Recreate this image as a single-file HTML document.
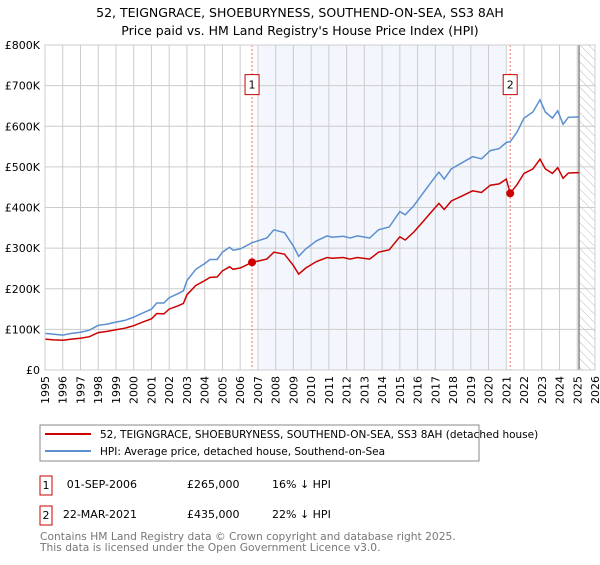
<!DOCTYPE html>
<html><head><meta charset="utf-8"><style>
body{margin:0;background:#fff;font-family:"Liberation Sans","DejaVu Sans",sans-serif;}
svg text{font-family:"DejaVu Sans","Liberation Sans",sans-serif;}
</style></head><body>
<svg id="c" width="600" height="560" xmlns="http://www.w3.org/2000/svg">
<defs><pattern id="hatch" width="6" height="6" patternUnits="userSpaceOnUse" patternTransform="rotate(-45)"><line x1="0" y1="0" x2="0" y2="6" stroke="#bbb" stroke-width="1"/></pattern></defs>
<text x="300" y="17" text-anchor="middle" font-size="12.5">52, TEIGNGRACE, SHOEBURYNESS, SOUTHEND-ON-SEA, SS3 8AH</text>
<text x="300" y="35" text-anchor="middle" font-size="12.5">Price paid vs. HM Land Registry's House Price Index (HPI)</text>
<g id="plot"></g>
<rect x="40" y="425" width="439" height="36" fill="#fff" stroke="#888"/>
<line x1="45" y1="434" x2="91" y2="434" stroke="#cc0000" stroke-width="2"/>
<text x="100" y="438" font-size="10.5">52, TEIGNGRACE, SHOEBURYNESS, SOUTHEND-ON-SEA, SS3 8AH (detached house)</text>
<line x1="45" y1="451" x2="91" y2="451" stroke="#5b8fd1" stroke-width="2"/>
<text x="100" y="455" font-size="10.5">HPI: Average price, detached house, Southend-on-Sea</text>
<g font-size="11">
<rect x="40" y="476" width="12" height="19" fill="#fff" stroke="#cc0000"/>
<text x="46" y="489" text-anchor="middle">1</text>
<text x="137" y="488" text-anchor="end">01-SEP-2006</text>
<text x="187" y="488">£265,000</text>
<text x="272" y="488">16% ↓ HPI</text>
<rect x="40" y="506" width="12" height="19" fill="#fff" stroke="#cc0000"/>
<text x="46" y="519" text-anchor="middle">2</text>
<text x="137" y="518" text-anchor="end">22-MAR-2021</text>
<text x="187" y="518">£435,000</text>
<text x="272" y="518">22% ↓ HPI</text>
</g>
<text x="40" y="540" font-size="10.7" fill="#777">Contains HM Land Registry data © Crown copyright and database right 2025.</text>
<text x="40" y="551" font-size="10.7" fill="#777">This data is licensed under the Open Government Licence v3.0.</text>
</svg>
<script>
const dates=[1995.0,1995.5,1996.0,1996.5,1997.0,1997.5,1998.0,1998.5,1999.0,1999.5,2000.0,2000.5,2001.0,2001.3,2001.7,2002.0,2002.5,2002.8,2003.0,2003.5,2004.0,2004.3,2004.7,2005.0,2005.4,2005.6,2006.0,2006.67,2007.0,2007.5,2007.9,2008.5,2009.0,2009.3,2009.7,2010.3,2010.9,2011.2,2011.8,2012.2,2012.6,2013.3,2013.8,2014.4,2015.0,2015.3,2015.8,2016.3,2016.9,2017.2,2017.5,2017.9,2018.5,2019.1,2019.6,2020.1,2020.6,2021.0,2021.22,2021.6,2022.0,2022.5,2022.9,2023.2,2023.6,2023.9,2024.2,2024.5,2025.1];
const hpiValues=[90,88,86,90,93,98,110,113,118,122,130,140,150,165,165,178,188,195,220,248,262,272,272,290,302,295,298,313,318,325,345,338,305,280,298,318,330,327,329,325,330,325,345,352,390,382,405,435,470,487,470,495,510,525,520,540,545,560,562,585,620,635,665,635,620,638,605,622,623];
const priceValues=[76,74,73,76,78,82,92,95,99,103,109,118,126,139,138,150,158,164,185,208,220,228,229,244,254,248,251,265,268,273,290,285,257,236,251,267,277,275,277,273,277,273,290,296,328,320,340,365,395,410,395,416,428,441,437,455,458,470,435,456,484,495,519,495,484,498,472,485,486];
const yTicks=[0,100,200,300,400,500,600,700,800];
const yTickLabels=["£0","£100K","£200K","£300K","£400K","£500K","£600K","£700K","£800K"];
const xYears=[1995,1996,1997,1998,1999,2000,2001,2002,2003,2004,2005,2006,2007,2008,2009,2010,2011,2012,2013,2014,2015,2016,2017,2018,2019,2020,2021,2022,2023,2024,2025,2026];
const saleDates=[2006.67,2021.22];
const salePrices=[265,435];
const saleLabels=["1","2"];
const L=45,R=595,T=45,B=370;
const xs=d=>L+(d-1995)/31*(R-L);
const ys=v=>B-v/800*(B-T);
const NS="http://www.w3.org/2000/svg";
const g=document.getElementById('plot');
function mk(t,a){const e=document.createElementNS(NS,t);for(const k in a)e.setAttribute(k,a[k]);g.appendChild(e);return e;}
let e;
e=mk('rect',{x:xs(2007),y:T,width:xs(2021)-xs(2007),height:B-T,fill:'#eef3fc',opacity:0.7});


e=mk('rect',{x:xs(2025.1),y:T,width:R-xs(2025.1),height:B-T,fill:'url(#hatch)'});


yTicks.forEach((v,i)=>{
 e=mk('line',{x1:L,x2:R,y1:ys(v),y2:ys(v),stroke:'#ccc'});
 
 
 e=mk('text',{x:L-5,y:ys(v)+4,'text-anchor':'end','font-size':'11'});
 e.textContent=yTickLabels[i];
 
 
});
xYears.forEach(yr=>{
 e=mk('line',{x1:xs(yr),x2:xs(yr),y1:T,y2:B,stroke:'#ccc'});
 
 
 e=mk('text',{x:0,y:0,'font-size':'11','text-anchor':'end',transform:`translate(${xs(yr)+4},${B+6}) rotate(-90)`});
 e.textContent=yr;
 
 
});
e=mk('line',{x1:xs(2025.1),x2:xs(2025.1),y1:T,y2:B,stroke:'#888','stroke-width':1.5});


saleDates.forEach((d,i)=>{
 e=mk('line',{x1:xs(d),x2:xs(d),y1:T,y2:B,stroke:'#f07070','stroke-dasharray':'2,2'});
 
 
});
function path(vals){return vals.map((v,i)=>(i?'L':'M')+xs(dates[i]).toFixed(1)+','+ys(v).toFixed(1)).join('');}
e=mk('path',{d:path(hpiValues),fill:'none',stroke:'#5b8fd1','stroke-width':1.5});


e=mk('path',{d:path(priceValues),fill:'none',stroke:'#cc0000','stroke-width':1.5});


saleDates.forEach((d,i)=>{
 e=mk('circle',{cx:xs(d),cy:ys(salePrices[i]),r:4,fill:'#cc0000'});
 
 
 e=mk('rect',{x:xs(d)-7,y:ys(700)-11,width:14,height:20,fill:'#fff',stroke:'#cc0000'});
 
 
 e=mk('text',{x:xs(d),y:ys(700)+3,'text-anchor':'middle','font-size':'11'});
 e.textContent=saleLabels[i];
 
 
});
e=mk('rect',{x:L,y:T,width:R-L,height:B-T,fill:'none',stroke:'#ccc'});


</script>
</body></html>
